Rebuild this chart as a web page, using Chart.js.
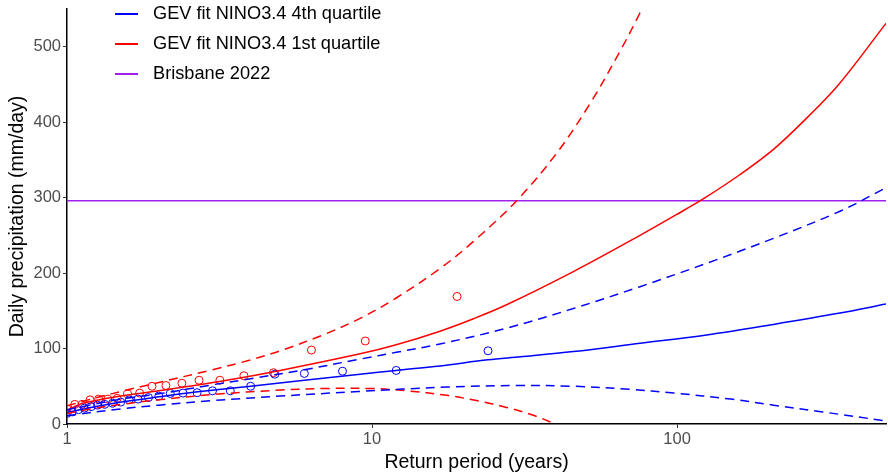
<!DOCTYPE html>
<html>
<head>
<meta charset="utf-8">
<script src="https://cdn.jsdelivr.net/npm/chart.js@4"></script>
<style>
  body { margin: 0; background: #fff; overflow: hidden; }
  #wrap { width: 888px; height: 474px; }
  canvas { display: block; }
</style>
</head>
<body>
<div id="wrap"><canvas id="gevChart" width="888" height="474"></canvas></div>
<script>
// empirical return periods (years) and daily rainfall (mm/day)
const q1ObsRP = [19, 9.5, 6.33, 4.75, 3.8, 3.17, 2.71, 2.38, 2.11, 1.9, 1.73, 1.58, 1.46, 1.36, 1.27, 1.19, 1.12, 1.06, 1.0];
const q1Obs   = [169, 110, 98, 68, 64, 58, 58, 54, 51, 50, 41, 40, 34, 33, 33, 32, 26, 26, 20];
const q4ObsRP = [24, 12, 8, 6, 4.8, 4, 3.43, 3, 2.67, 2.4, 2.18, 2, 1.85, 1.71, 1.6, 1.5, 1.41, 1.33, 1.26, 1.2, 1.14, 1.09, 1.04, 1.0];
const q4Obs   = [97, 71, 70, 67, 66, 50, 44, 44, 41.5, 41, 40.5, 37, 35, 33, 32, 29, 27.5, 26, 25, 23, 21, 19, 16, 14];

// GEV fit, 1st quartile (red): central curve and confidence bounds
const q1FitRP   = [1, 1.1, 1.22, 1.5, 2, 3.34, 5, 9.14, 12, 16.7, 21.5, 27.6, 45.7, 75.6, 100, 123.6, 160, 207, 270, 342, 484];
const q1Fit     = [18, 26, 30.5, 37, 44, 58, 71, 93, 105, 123, 139.5, 158, 202, 250, 278, 300, 330, 364, 408, 452, 531];
const q1UpperRP = [1, 1.2, 1.57, 2, 3, 4, 5, 7, 9.14, 12, 16.7, 21.5, 29.8, 40.3, 51.9, 65, 75.6, 85];
const q1Upper   = [24, 33, 45, 55, 72, 85, 97, 119, 140, 167, 206, 242, 296, 359, 425, 494, 545, 588];
const q1LowerRP = [1, 1.2, 1.5, 2, 3, 5, 7, 10, 13, 17.6, 22, 27.6, 33, 40];
const q1Lower   = [14, 20, 26, 32, 39, 45, 47, 47, 44, 38, 31, 22, 13, 0];

// GEV fit, 4th quartile (blue)
const q4FitRP   = [1, 1.2, 1.57, 2, 2.6, 4, 6, 9.14, 12, 16.7, 24, 30.7, 45.7, 75.6, 125, 207, 342, 484];
const q4Fit     = [15, 22, 30, 36, 42, 50, 58, 66, 71, 77, 85, 89, 96, 107, 118, 132, 147, 159];
const q4UpperRP = [1, 1.5, 2, 3, 4, 6, 9.14, 12, 16.7, 27.6, 45.7, 75.6, 125, 207, 342, 484];
const q4Upper   = [19, 33, 40, 52, 60, 72, 86, 95, 106, 127, 153, 182, 213, 246, 282, 313];
const q4LowerRP = [1, 1.5, 2, 3, 5, 9, 17.6, 30, 45.7, 70, 97.6, 150, 207, 300, 484];
const q4Lower   = [11, 20, 25, 31, 37, 43, 49, 51, 50, 46, 41, 33, 25, 16, 4];

// observed event
const brisbane2022 = 296;

const xMin = 1, xMax = 484, yMax = 550;
const xTicks = [1, 10, 100];
const yTicks = [0, 100, 200, 300, 400, 500];

const BLUE = '#0000FF', RED = '#FF0000', PURPLE = '#A020F0';
const FONT = '"Liberation Sans", Arial, sans-serif';

function pts(xs, ys) {
    return xs.map((x, i) => ({ x: x, y: ys[i] }));
}

function curve(xs, ys, color, dashed) {
    return {
        type: 'line',
        data: pts(xs, ys),
        borderColor: color,
        backgroundColor: 'transparent',
        borderWidth: 1.5,
        borderDash: dashed ? [9, 6] : [],
        pointRadius: 0,
        tension: 0.35,
        fill: false
    };
}

function obs(xs, ys, color) {
    return {
        type: 'scatter',
        data: pts(xs, ys),
        borderColor: color,
        backgroundColor: 'transparent',
        borderWidth: 1,
        pointRadius: 4,
        pointHoverRadius: 4,
        showLine: false
    };
}

// legend drawn inside the panel like the original figure
const legendItems = [
    { text: 'GEV fit NINO3.4 4th quartile', color: BLUE },
    { text: 'GEV fit NINO3.4 1st quartile', color: RED },
    { text: 'Brisbane 2022', color: PURPLE }
];

const insideLegend = {
    id: 'insideLegend',
    afterDraw(chart) {
        const c = chart.ctx;
        c.save();
        legendItems.forEach((item, i) => {
            const y = 14 + i * 30;
            c.strokeStyle = item.color;
            c.lineWidth = 2;
            c.beginPath();
            c.moveTo(115, y);
            c.lineTo(138, y);
            c.stroke();
            c.fillStyle = '#000';
            c.font = '18.2px ' + FONT;
            c.textBaseline = 'middle';
            c.fillText(item.text, 153, y);
        });
        c.restore();
    }
};

const ctx = document.getElementById('gevChart').getContext('2d');

new Chart(ctx, {
    data: {
        datasets: [
            curve(q4LowerRP, q4Lower, BLUE, true),
            curve(q4UpperRP, q4Upper, BLUE, true),
            curve(q1LowerRP, q1Lower, RED, true),
            curve(q1UpperRP, q1Upper, RED, true),
            curve(q4FitRP, q4Fit, BLUE, false),
            curve(q1FitRP, q1Fit, RED, false),
            curve([xMin, xMax], [brisbane2022, brisbane2022], PURPLE, false),
            obs(q4ObsRP, q4Obs, BLUE),
            obs(q1ObsRP, q1Obs, RED)
        ]
    },
    options: {
        responsive: false,
        animation: false,
        devicePixelRatio: 1,
        layout: { autoPadding: false, padding: { left: 0, right: 2, top: 9, bottom: 0 } },
        plugins: {
            legend: { display: false },
            tooltip: { enabled: false }
        },
        scales: {
            x: {
                type: 'logarithmic',
                min: xMin,
                max: xMax,
                afterBuildTicks: (s) => { s.ticks = xTicks.map(v => ({ value: v })); },
                afterFit: (s) => { s.height = 50; s.paddingLeft = 0; s.paddingRight = 0; },
                ticks: {
                    color: '#4D4D4D',
                    font: { family: FONT, size: 16.5 },
                    padding: 2,
                    maxRotation: 0,
                    autoSkip: false,
                    callback: (v) => String(v)
                },
                grid: { drawOnChartArea: false, drawTicks: true, tickLength: 4, color: '#333333' },
                border: { display: true, color: '#000', width: 1.5 },
                title: {
                    display: true,
                    text: 'Return period (years)',
                    color: '#000',
                    font: { family: FONT, size: 19.5 },
                    padding: { top: 0, bottom: 0 }
                }
            },
            y: {
                type: 'linear',
                min: 0,
                max: yMax,
                afterBuildTicks: (s) => { s.ticks = yTicks.map(v => ({ value: v })); },
                afterFit: (s) => { s.width = 67; s.paddingTop = 0; s.paddingBottom = 0; },
                ticks: {
                    color: '#4D4D4D',
                    font: { family: FONT, size: 16.5 },
                    padding: 2
                },
                grid: { drawOnChartArea: false, drawTicks: true, tickLength: 4, color: '#333333' },
                border: { display: true, color: '#000', width: 1.5 },
                title: {
                    display: true,
                    text: 'Daily precipitation (mm/day)',
                    color: '#000',
                    font: { family: FONT, size: 19.5 },
                    padding: { top: 6, bottom: 0 }
                }
            }
        }
    },
    plugins: [insideLegend]
});
</script>
</body>
</html>
